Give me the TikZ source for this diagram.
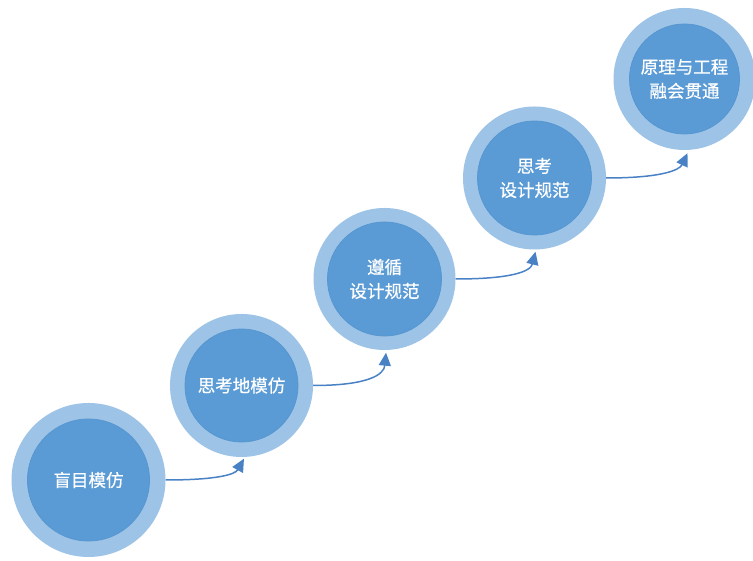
\documentclass[tikz,border=0pt]{standalone}
\usepackage{fontspec}
\newfontfamily\cjk[FakeBold=0.6]{Noto Sans CJK SC}
\usetikzlibrary{arrows.meta}
\definecolor{ringblue}{RGB}{157,195,230}
\definecolor{coreblue}{RGB}{91,155,213}
\definecolor{coreedge}{RGB}{86,150,209}
\definecolor{arrowblue}{RGB}{72,130,196}
\tikzset{
  ring/.style={circle, fill=ringblue, inner sep=0pt},
  core/.style={circle, fill=coreblue, draw=coreedge, line width=0.8pt, inner sep=0pt,
    text=white, align=center, font=\cjk\fontsize{17.5}{24}\selectfont},
  flow/.style={arrowblue, line width=1.5pt, -{Triangle[length=13pt,width=12pt]}},
}
\begin{document}
\begin{tikzpicture}[x=1pt,y=1pt]
\useasboundingbox (0,0) rectangle (753,561);
% circles (y measured from bottom)
\node[ring, minimum size=154pt] (r1) at (88.5,81) {};
\node[core, minimum size=122pt] (c1) at (88.5,81) {盲目模仿};
\node[ring, minimum size=143pt] (r2) at (241.5,175.5) {};
\node[core, minimum size=113pt] (c2) at (241.5,175.5) {思考地模仿};
\node[ring, minimum size=142pt] (r3) at (384.5,282) {};
\node[core, minimum size=114pt] (c3) at (384.5,282) {遵循\\设计规范};
\node[ring, minimum size=143pt] (r4) at (534.5,383) {};
\node[core, minimum size=114pt] (c4) at (534.5,383) {思考\\设计规范};
\node[ring, minimum size=142pt] (r5) at (684.5,482) {};
\node[core, minimum size=110pt] (c5) at (684.5,482) {原理与工程\\融会贯通};
% connectors
\draw[flow] (r1.east) .. controls +(50,0) and +(-9,-16) .. ([xshift=2.5pt,yshift=-1.5pt]r2.south);
\draw[flow] (r2.east) .. controls +(55,0) and +(-2,-22) .. ([xshift=1.5pt,yshift=-2.5pt]r3.south);
\draw[flow] (r3.east) .. controls +(55,0) and +(-5,-20) .. ([xshift=1pt,yshift=-2pt]r4.south);
\draw[flow] (r4.east) .. controls +(55,0) and +(-8,-17) .. ([xshift=3pt,yshift=-3pt]r5.south);
\end{tikzpicture}
\end{document}
